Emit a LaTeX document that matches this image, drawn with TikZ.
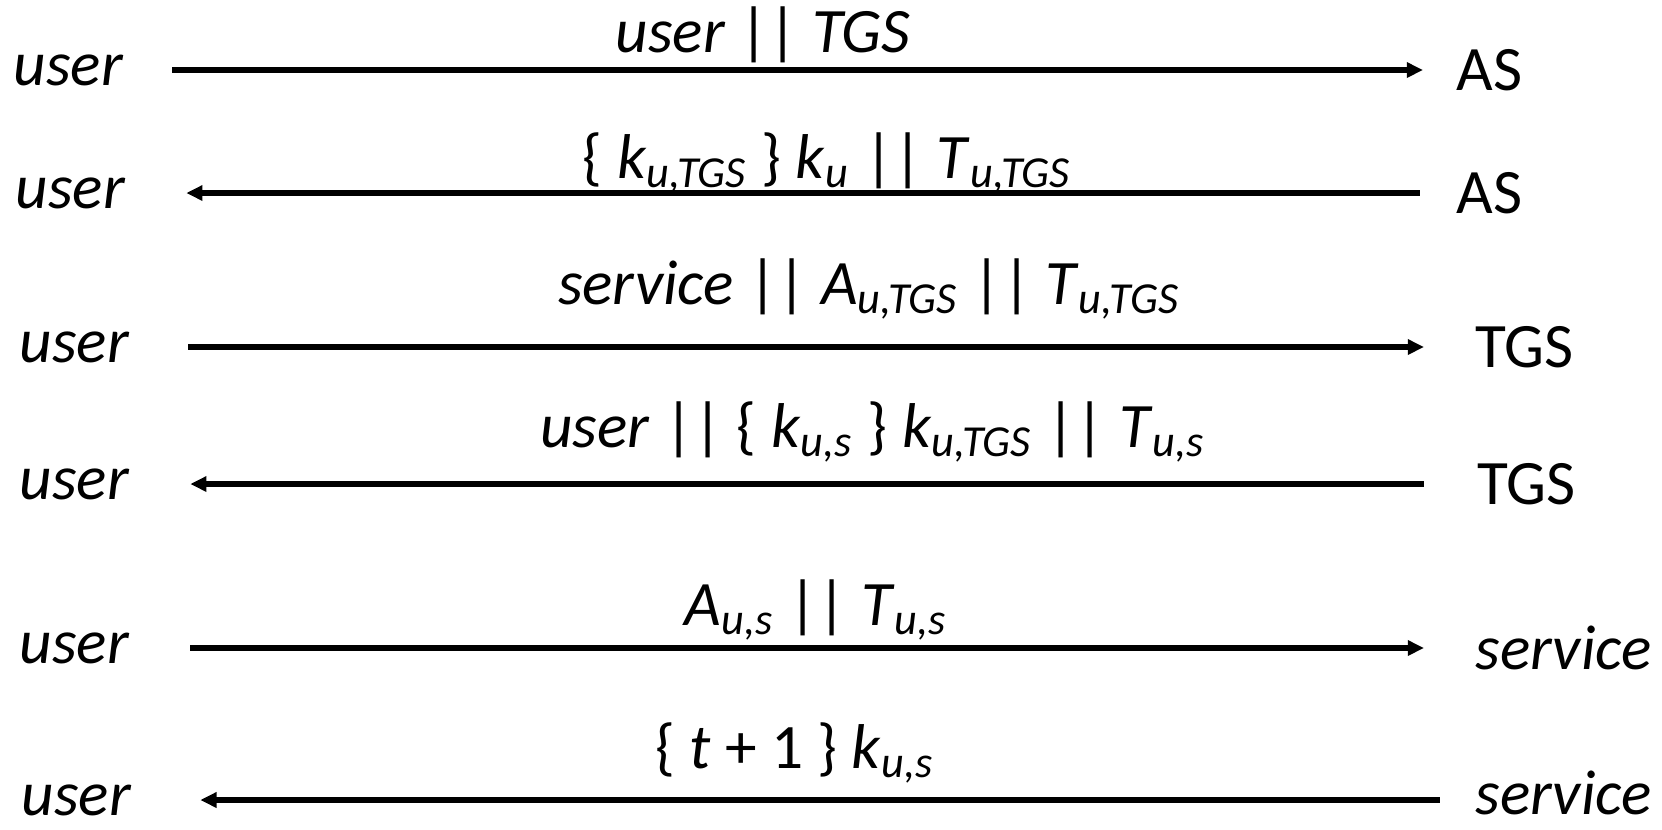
\documentclass[tikz,border=0pt]{standalone}
\usepackage{fontspec}
\usepackage{tikz}
\setmainfont{Carlito}
\usetikzlibrary{arrows.meta, positioning}
\newcommand{\sbs}[1]{\textsubscript{\itshape #1}}

\begin{document}
\begin{tikzpicture}[x=0.01cm, y=-0.01cm, >={Triangle[length=4.6pt, width=4.2pt]}, line width=1.6pt, font=\fontsize{18}{21}\selectfont]
  \tikzset{party/.style={inner sep=0pt, anchor=west}, msglabel/.style={inner sep=0pt, anchor=base}}
  \useasboundingbox (0,0) rectangle (1662,829);

  % Senders
  \node[party] (u1) at (11,70) {\textit{user}};
  \node[party] (u2) at (13,193) {\textit{user}};
  \node[party] (u3) at (17,347) {\textit{user}};
  \node[party] (u4) at (17,484) {\textit{user}};
  \node[party] (u5) at (17,648) {\textit{user}};
  \node[party] (u6) at (19,800) {\textit{user}};

  % Receivers
  \node[party] (as1) at (1454,70) {AS};
  \node[party] (as2) at (1454,193) {AS};
  \node[party] (tgs1) at (1473,347) {TGS};
  \node[party] (tgs2) at (1475,484) {TGS};
  \node[party] (sv1) at (1473,648) {\textit{service}};
  \node[party] (sv2) at (1473,793) {\textit{service}};

  % Messages
  \draw[->, shorten <=4.6mm, shorten >=3.1mm] (u1.east) -- (as1.west);
  \draw[<-, shorten <=5.8mm, shorten >=3.4mm] (u2.east) -- (as2.west);
  \draw[->, shorten <=5.6mm, shorten >=4.9mm] (u3.east) -- (tgs1.west);
  \draw[<-, shorten <=5.8mm, shorten >=5.1mm] (u4.east) -- (tgs2.west);
  \draw[->, shorten <=5.8mm, shorten >=4.9mm] (u5.east) -- (sv1.west);
  \draw[<-, shorten <=6.6mm, shorten >=3.3mm] (u6.east) -- (sv2.west |- u6.east);

  % Labels
  \node[msglabel] (m1) at (763,52) {\textit{user} || \textit{TGS}};
  \node[msglabel] (m2) at (827,178) {\{ \textit{k}\sbs{u,TGS} \} \textit{k}\sbs{u} || \textit{T}\sbs{u,TGS}};
  \node[msglabel] (m3) at (869,304) {\textit{service} || \textit{A}\sbs{u,TGS} || \textit{T}\sbs{u,TGS}};
  \node[msglabel] (m4) at (873,447) {\textit{user} || \{ \textit{k}\sbs{u,s} \} \textit{k}\sbs{u,TGS} || \textit{T}\sbs{u,s}};
  \node[msglabel] (m5) at (816,625) {\textit{A}\sbs{u,s} || \textit{T}\sbs{u,s}};
  \node[msglabel] (m6) at (795,768) {\{ \textit{t} + 1 \} \textit{k}\sbs{u,s}};
\end{tikzpicture}
\end{document}
